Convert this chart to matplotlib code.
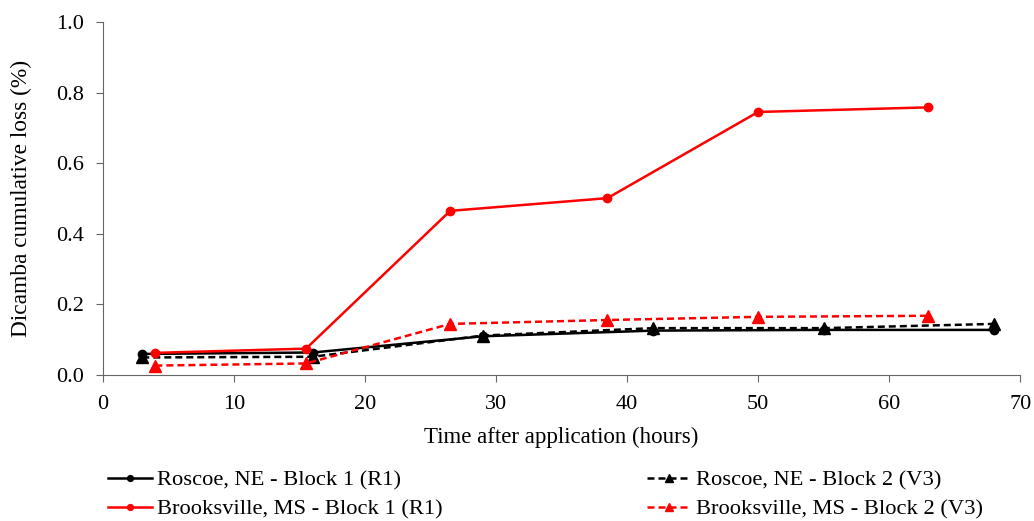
import matplotlib
matplotlib.use("Agg")
import matplotlib.pyplot as plt

plt.rcParams["font.family"] = ["Liberation Serif", "DejaVu Serif"]

roscoe_hours = [3, 16, 29, 42, 55, 68]
roscoe_b1 = [0.060, 0.064, 0.110, 0.126, 0.128, 0.128]
roscoe_b2 = [0.050, 0.052, 0.112, 0.133, 0.133, 0.145]

brooks_hours = [4, 15.5, 26.5, 38.5, 50, 63]
brooks_b1 = [0.063, 0.075, 0.465, 0.501, 0.745, 0.758]
brooks_b2 = [0.027, 0.033, 0.145, 0.156, 0.165, 0.168]

labels = ["Roscoe, NE - Block 1 (R1)", "Brooksville, MS - Block 1 (R1)",
          "Roscoe, NE - Block 2 (V3)", "Brooksville, MS - Block 2 (V3)"]

fig = plt.figure(figsize=(10.34, 5.21), dpi=100)
ax = fig.add_axes([0.0996, 0.28, 0.887, 0.678])

dash = (2.8, 1.6)
h1, = ax.plot(roscoe_hours, roscoe_b1, "-", color="black", marker="o", markersize=6, lw=1.8)
h3, = ax.plot(roscoe_hours, roscoe_b2, "--", dashes=dash, color="black", marker="^", markersize=8, lw=1.8)
h2, = ax.plot(brooks_hours, brooks_b1, "-", color="red", marker="o", markersize=6, lw=1.8)
h4, = ax.plot(brooks_hours, brooks_b2, "--", dashes=dash, color="red", marker="^", markersize=9, lw=1.8)

ax.set_xlim(0, 70)
ax.set_ylim(0, 1.0)
ax.set_xticks(range(0, 71, 10))
ax.set_yticks([0.0, 0.2, 0.4, 0.6, 0.8, 1.0])
ax.set_yticklabels(["0.0", "0.2", "0.4", "0.6", "0.8", "1.0"])
ax.tick_params(labelsize=16, direction="out", length=5, color="#666666")
ax.tick_params(axis="x", pad=9.5)
ax.tick_params(axis="y", pad=9)
for s in ["top", "right"]:
    ax.spines[s].set_visible(False)
for s in ["left", "bottom"]:
    ax.spines[s].set_color("#666666")

ax.set_xlabel("Time after application (hours)", fontsize=16.5, labelpad=9)
ax.set_ylabel("Dicamba cumulative loss (%)", fontsize=16.8, labelpad=17)

# legend below the axes, two columns
leg = fig.legend([h1, h2, h3, h4], labels, ncol=2, frameon=False, fontsize=16.2,
                 loc="upper left", bbox_to_anchor=(0.0977, 0.111), handlelength=1.95,
                 handletextpad=0.22, columnspacing=9.1, labelspacing=0.36,
                 markerscale=0.7, borderaxespad=0, borderpad=0.3)

fig.savefig("out.png", dpi=100)
